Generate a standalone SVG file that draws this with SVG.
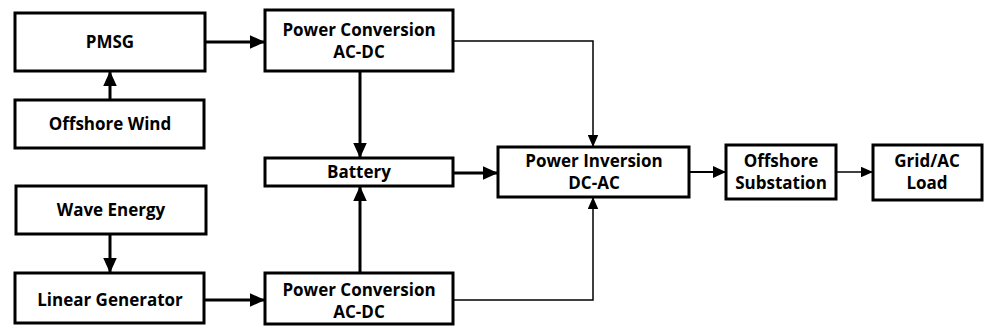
<svg xmlns="http://www.w3.org/2000/svg" width="984" height="329" viewBox="0 0 984 329">
<defs>
<style>
.box{fill:#fff;stroke:#000;stroke-width:3}
.t{font-family:"Open Sans","Liberation Sans",sans-serif;font-weight:bold;font-size:17px;fill:#000;text-anchor:middle}
.thick{fill:none;stroke:#000;stroke-width:3}
.thin{fill:none;stroke:#000;stroke-width:1.5}
.mid{fill:none;stroke:#000;stroke-width:2}
</style>
<marker id="ah" viewBox="0 0 10 10" refX="10" refY="5" markerWidth="5" markerHeight="4.5" markerUnits="strokeWidth" orient="auto" preserveAspectRatio="none"><path d="M0,0 L10,5 L0,10 z" fill="#000"/></marker>
<marker id="ahs" viewBox="0 0 10 10" refX="10" refY="5" markerWidth="8" markerHeight="7" markerUnits="strokeWidth" orient="auto" preserveAspectRatio="none"><path d="M0,0 L10,5 L0,10 z" fill="#000"/></marker>
<marker id="ahm" viewBox="0 0 10 10" refX="10" refY="5" markerWidth="6.5" markerHeight="6" markerUnits="strokeWidth" orient="auto" preserveAspectRatio="none"><path d="M0,0 L10,5 L0,10 z" fill="#000"/></marker>
</defs>
<g id="connectors">
<path class="thick" d="M205,42 H265" marker-end="url(#ah)"/>
<path class="thick" d="M110,100 V71" marker-end="url(#ah)"/>
<path class="thick" d="M360,71 V158" marker-end="url(#ah)"/>
<path class="thin" d="M453,41 H593 V147" marker-end="url(#ahs)"/>
<path class="thick" d="M453,173 H498" marker-end="url(#ah)"/>
<path class="thick" d="M360,273 V186" marker-end="url(#ah)"/>
<path class="thick" d="M110,234 V273" marker-end="url(#ah)"/>
<path class="thick" d="M204,300 H265" marker-end="url(#ah)"/>
<path class="thin" d="M453,300 H593 V197" marker-end="url(#ahs)"/>
<path class="mid" d="M689,172 H726" marker-end="url(#ahm)"/>
<path class="thin" d="M836,172 H873" marker-end="url(#ahs)"/>
</g>
<g id="pmsg"><rect class="box" x="15" y="13" width="190" height="58"/><text class="t" x="110" y="48">PMSG</text></g>
<g id="offshore-wind"><rect class="box" x="15" y="100" width="189" height="48"/><text class="t" x="110" y="130">Offshore Wind</text></g>
<g id="pc-top"><rect class="box" x="265" y="10" width="188" height="61"/><text class="t" x="359" y="36">Power Conversion</text><text class="t" x="359" y="58">AC-DC</text></g>
<g id="battery"><rect class="box" x="265" y="158" width="188" height="28"/><text class="t" x="359" y="178">Battery</text></g>
<g id="wave-energy"><rect class="box" x="16" y="186" width="190" height="48"/><text class="t" x="111" y="216">Wave Energy</text></g>
<g id="linear-generator"><rect class="box" x="15" y="273" width="189" height="50"/><text class="t" x="110" y="306">Linear Generator</text></g>
<g id="pc-bottom"><rect class="box" x="265" y="273" width="188" height="51"/><text class="t" x="359" y="296">Power Conversion</text><text class="t" x="359" y="318">AC-DC</text></g>
<g id="power-inversion"><rect class="box" x="498" y="147" width="191" height="50"/><text class="t" x="594" y="167">Power Inversion</text><text class="t" x="594" y="189">DC-AC</text></g>
<g id="offshore-substation"><rect class="box" x="726" y="145" width="110" height="54"/><text class="t" x="781" y="167">Offshore</text><text class="t" x="781" y="189">Substation</text></g>
<g id="grid-load"><rect class="box" x="873" y="145" width="109" height="55"/><text class="t" x="927" y="167">Grid/AC</text><text class="t" x="927" y="189">Load</text></g>
</svg>
